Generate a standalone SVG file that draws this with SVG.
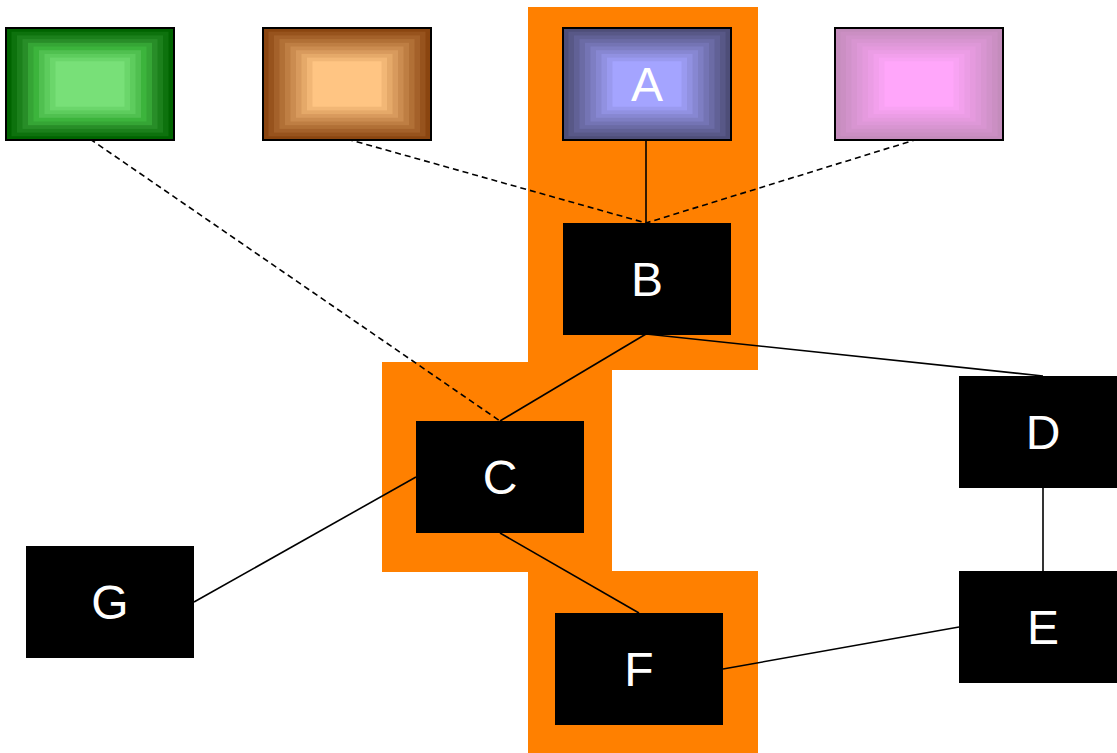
<svg xmlns="http://www.w3.org/2000/svg" xmlns:xlink="http://www.w3.org/1999/xlink" width="1117" height="753" viewBox="0 0 1117 753">
<style>
.lbl{font-family:"Liberation Sans",Arial,sans-serif;font-size:48px;fill:#ffffff;text-anchor:middle}
.node{fill:#000000}
.frame{fill:none;stroke:#000000;stroke-width:2}
.edge{stroke:#000000;stroke-width:1.6;fill:none}
.dash{stroke-dasharray:6 4}
</style>
<defs>
<g id="g-green">
<rect x="0" y="0" width="168" height="112" fill="rgb(0,100,0)"/>
<rect x="5.5" y="3.7" width="157" height="104.6" fill="rgb(13,114,13)"/>
<rect x="11" y="7.4" width="146" height="97.2" fill="rgb(27,128,27)"/>
<rect x="16.5" y="11.1" width="135" height="89.8" fill="rgb(40,141,40)"/>
<rect x="22" y="14.8" width="124" height="82.4" fill="rgb(53,165,53)"/>
<rect x="27.5" y="18.5" width="113" height="75" fill="rgb(60,180,60)"/>
<rect x="33" y="22.2" width="102" height="67.6" fill="rgb(80,192,80)"/>
<rect x="38.5" y="25.9" width="91" height="60.2" fill="rgb(93,204,93)"/>
<rect x="44" y="29.6" width="80" height="52.8" fill="rgb(107,214,107)"/>
<rect x="49.5" y="33.3" width="69" height="45.4" fill="rgb(120,224,120)"/>
<rect x="0" y="0" width="168" height="112" class="frame"/>
</g>
<g id="g-brown">
<rect x="0" y="0" width="168" height="112" fill="rgb(138,69,16)"/>
<rect x="5.5" y="3.7" width="157" height="104.6" fill="rgb(151,83,29)"/>
<rect x="11" y="7.4" width="146" height="97.2" fill="rgb(164,97,42)"/>
<rect x="16.5" y="11.1" width="135" height="89.8" fill="rgb(177,112,54)"/>
<rect x="22" y="14.8" width="124" height="82.4" fill="rgb(190,126,67)"/>
<rect x="27.5" y="18.5" width="113" height="75" fill="rgb(203,140,80)"/>
<rect x="33" y="22.2" width="102" height="67.6" fill="rgb(216,154,93)"/>
<rect x="38.5" y="25.9" width="91" height="60.2" fill="rgb(229,169,105)"/>
<rect x="44" y="29.6" width="80" height="52.8" fill="rgb(242,183,118)"/>
<rect x="49.5" y="33.3" width="69" height="45.4" fill="rgb(255,197,131)"/>
<rect x="0" y="0" width="168" height="112" class="frame"/>
</g>
<g id="g-blue">
<rect x="0" y="0" width="168" height="112" fill="rgb(78,78,120)"/>
<rect x="5.5" y="3.7" width="157" height="104.6" fill="rgb(88,88,135)"/>
<rect x="11" y="7.4" width="146" height="97.2" fill="rgb(97,97,150)"/>
<rect x="16.5" y="11.1" width="135" height="89.8" fill="rgb(107,107,165)"/>
<rect x="22" y="14.8" width="124" height="82.4" fill="rgb(116,116,180)"/>
<rect x="27.5" y="18.5" width="113" height="75" fill="rgb(126,126,195)"/>
<rect x="33" y="22.2" width="102" height="67.6" fill="rgb(135,135,210)"/>
<rect x="38.5" y="25.9" width="91" height="60.2" fill="rgb(145,145,225)"/>
<rect x="44" y="29.6" width="80" height="52.8" fill="rgb(154,154,240)"/>
<rect x="49.5" y="33.3" width="69" height="45.4" fill="rgb(164,164,255)"/>
<rect x="0" y="0" width="168" height="112" class="frame"/>
</g>
<g id="g-pink">
<rect x="0" y="0" width="168" height="112" fill="rgb(196,140,188)"/>
<rect x="5.5" y="3.7" width="157" height="104.6" fill="rgb(203,143,195)"/>
<rect x="11" y="7.4" width="146" height="97.2" fill="rgb(209,146,202)"/>
<rect x="16.5" y="11.1" width="135" height="89.8" fill="rgb(216,149,209)"/>
<rect x="22" y="14.8" width="124" height="82.4" fill="rgb(222,152,216)"/>
<rect x="27.5" y="18.5" width="113" height="75" fill="rgb(229,154,222)"/>
<rect x="33" y="22.2" width="102" height="67.6" fill="rgb(235,157,229)"/>
<rect x="38.5" y="25.9" width="91" height="60.2" fill="rgb(242,160,236)"/>
<rect x="44" y="29.6" width="80" height="52.8" fill="rgb(248,163,243)"/>
<rect x="49.5" y="33.3" width="69" height="45.4" fill="rgb(255,166,250)"/>
<rect x="0" y="0" width="168" height="112" class="frame"/>
</g>
</defs>
<rect width="1117" height="753" fill="#ffffff"/>
<path id="highlight" d="M528,7 H758 V370 H612 V571 H758 V753 H528 V572 H382 V362 H528 Z" fill="#ff8000"/>
<g id="connectors">
<line class="edge dash" x1="90" y1="139" x2="500" y2="421"/>
<line class="edge dash" x1="347" y1="139" x2="646" y2="223"/>
<line class="edge dash" x1="918" y1="139" x2="646" y2="223"/>
<line class="edge" x1="646" y1="139" x2="646" y2="223"/>
<line class="edge" x1="646" y1="334" x2="500" y2="421"/>
<line class="edge" x1="646" y1="334" x2="1043" y2="376"/>
<line class="edge" x1="416" y1="477" x2="194" y2="602"/>
<line class="edge" x1="500" y1="533" x2="639" y2="613"/>
<line class="edge" x1="1043" y1="488" x2="1043" y2="571"/>
<line class="edge" x1="723" y1="669" x2="959" y2="627"/>
</g>
<g id="node-green"><use xlink:href="#g-green" href="#g-green" x="6" y="28"/></g>
<g id="node-brown"><use xlink:href="#g-brown" href="#g-brown" x="263" y="28"/></g>
<g id="node-A"><use xlink:href="#g-blue" href="#g-blue" x="563" y="28"/><text class="lbl" x="647" y="101">A</text></g>
<g id="node-pink"><use xlink:href="#g-pink" href="#g-pink" x="835" y="28"/></g>
<g id="node-B"><rect class="node" x="563" y="223" width="168" height="112"/><text class="lbl" x="647" y="296">B</text></g>
<g id="node-C"><rect class="node" x="416" y="421" width="168" height="112"/><text class="lbl" x="500" y="494">C</text></g>
<g id="node-D"><rect class="node" x="959" y="376" width="168" height="112"/><text class="lbl" x="1043" y="449">D</text></g>
<g id="node-E"><rect class="node" x="959" y="571" width="168" height="112"/><text class="lbl" x="1043" y="644">E</text></g>
<g id="node-F"><rect class="node" x="555" y="613" width="168" height="112"/><text class="lbl" x="639" y="686">F</text></g>
<g id="node-G"><rect class="node" x="26" y="546" width="168" height="112"/><text class="lbl" x="110" y="619">G</text></g>
</svg>
